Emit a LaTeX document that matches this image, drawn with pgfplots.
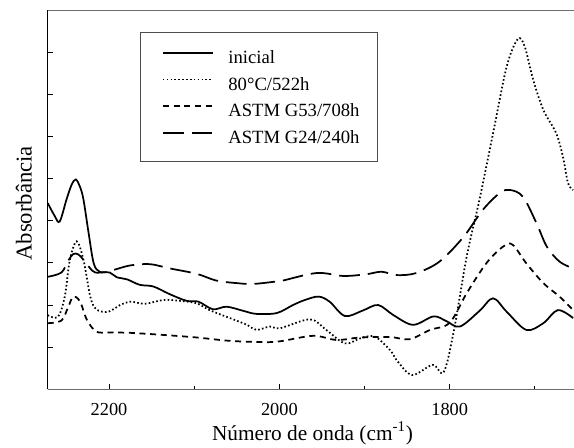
\documentclass[border=0pt]{standalone}
\usepackage{fontspec}
\setmainfont{Liberation Serif}
\usepackage{pgfplots}
\pgfplotsset{compat=1.18}

\pgfplotstableread{
x y
2272 4.42
2264 4.12
2258 3.98
2250 4.50
2244 4.85
2239 4.98
2234 4.80
2230 4.50
2224 3.71
2218 2.99
2211 2.79
2199 2.77
2191 2.66
2179 2.61
2164 2.48
2148 2.44
2129 2.26
2109 2.10
2095 2.08
2078 1.90
2062 1.96
2042 1.86
2027 1.79
2003 1.81
1984 2.00
1970 2.12
1954 2.20
1941 2.08
1923 1.74
1902 1.87
1884 2.00
1866 1.76
1843 1.53
1819 1.73
1804 1.62
1788 1.49
1765 1.86
1749 2.16
1733 1.84
1710 1.41
1690 1.57
1673 1.88
1655 1.69
}\inicial

\pgfplotstableread{
x y
2272 1.76
2260 1.72
2252 2.20
2246 3.07
2238 3.51
2230 3.07
2222 2.20
2215 1.90
2201 1.84
2187 2.00
2175 2.08
2158 2.03
2136 2.12
2117 2.10
2097 2.04
2082 1.88
2058 1.69
2038 1.53
2027 1.41
2011 1.49
1999 1.45
1964 1.66
1945 1.41
1923 1.09
1905 1.21
1888 1.25
1870 0.93
1861 0.66
1844 0.34
1820 0.58
1807 0.41
1795 1.40
1780 3.15
1765 4.50
1749 6.08
1733 7.66
1720 8.31
1712 8.14
1702 7.35
1690 6.63
1675 6.08
1667 5.52
1661 4.89
1655 4.73
}\oitenta

\pgfplotstableread{
x y
2272 1.57
2256 1.63
2248 1.95
2242 2.20
2234 2.08
2226 1.65
2215 1.37
2200 1.35
2175 1.34
2136 1.29
2097 1.23
2058 1.15
2019 1.12
1999 1.14
1960 1.27
1933 1.17
1905 1.23
1870 1.24
1847 1.19
1823 1.41
1800 1.58
1780 2.28
1757 2.99
1737 3.39
1726 3.43
1710 2.99
1690 2.52
1671 2.20
1655 1.88
}\gcinq

\pgfplotstableread{
x y
2272 2.67
2256 2.77
2248 3.05
2242 3.21
2236 3.20
2230 3.07
2220 2.82
2216 2.77
2205 2.78
2195 2.83
2175 2.94
2152 2.97
2129 2.87
2097 2.74
2074 2.58
2050 2.52
2031 2.50
2003 2.56
1996 2.58
1956 2.76
1925 2.69
1898 2.73
1880 2.79
1862 2.71
1839 2.76
1812 3.03
1784 3.61
1761 4.26
1741 4.66
1729 4.73
1714 4.57
1698 3.94
1686 3.39
1671 3.03
1655 2.87
}\gvint

\begin{document}
\begin{tikzpicture}
\begin{axis}[
  scale only axis,
  width=394.7pt, height=284.5pt,
  x dir=reverse,
  xmin=1654, xmax=2272, ymin=0, ymax=9,
  axis x line*=bottom, axis y line*=left,
  x axis line style={-, draw=gray!85!black, line width=1.2pt},
  y axis line style={-, draw=black, line width=0.9pt},
  tick align=inside,
  major tick length=4pt, minor tick length=2.5pt,
  tick style={black, line width=0.6pt},
  xtick={2200,2000,1800}, xticklabels={2200,2000,1800},
  minor xtick={2100,1900,1700},
  ytick={1,2,3,4,5,6,7,8}, yticklabels={},
  xticklabel style={anchor=base, yshift=-19.5pt, inner sep=0pt, font=\fontsize{13.75}{16}\selectfont},
  xlabel={Número de onda (cm\textsuperscript{-1})},
  ylabel={Absorbância},
  xlabel style={at={(rel axis cs:0.503,-0.1336)}, anchor=base, inner sep=0pt, font=\fontsize{16}{19}\selectfont},
  ylabel style={at={(rel axis cs:-0.0304,0.4904)}, anchor=base, inner sep=0pt, font=\fontsize{17}{20}\selectfont},
  legend style={at={(rel axis cs:0.2166,0.895)}, anchor=north west, draw=none, fill=none,
    font=\fontsize{14}{16}\selectfont, row sep=7pt, inner sep=0pt,
    nodes={inner sep=0pt, text height=10pt, text depth=3pt},
    /tikz/every odd column/.append style={column sep=11pt}},
  legend cell align=left,
  legend image code/.code={\draw[#1] (0pt,4.5pt) -- (37.5pt,4.5pt);},
  every axis plot/.append style={black, line width=1.3pt, smooth, tension=0.55, no marks},
]
\addplot[solid] table[x=x,y=y] {\inicial};
\addlegendentry{inicial}
\addplot[dash pattern=on 1.2pt off 1.7pt] table[x=x,y=y] {\oitenta};
\addlegendentry{80°C/522h}
\addplot[dash pattern=on 4.5pt off 3.5pt] table[x=x,y=y] {\gcinq};
\addlegendentry{ASTM G53/708h}
\addplot[dash pattern=on 15.5pt off 6pt] table[x=x,y=y] {\gvint};
\addlegendentry{ASTM G24/240h}
\draw[gray!85!black, line width=1.2pt] (rel axis cs:0,1) -- (rel axis cs:1,1);
\draw[gray!60!black, line width=0.8pt] (rel axis cs:0.1767,0.9412) rectangle (rel axis cs:0.627,0.6001);
\coordinate (bl) at (rel axis cs:0,0);
\coordinate (tr) at (rel axis cs:1,1);
\end{axis}
\pgfresetboundingbox
\path[use as bounding box] ([shift={(-35.8pt,-44pt)}]bl) rectangle ([shift={(0pt,7.5pt)}]tr);
\end{tikzpicture}
\end{document}
